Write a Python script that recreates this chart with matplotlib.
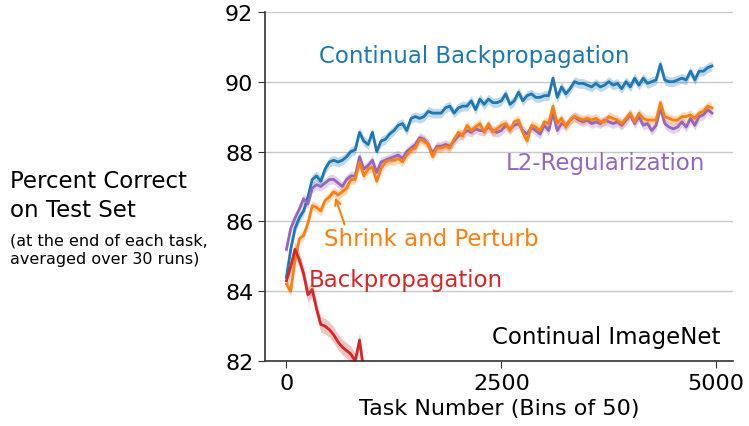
import numpy as np
import matplotlib
matplotlib.use("Agg")
import matplotlib.pyplot as plt

# task bins (0, 50, ..., 4950)
tasks = np.arange(0, 5000, 50)

cbp = [
    84.4, 85.2, 85.8, 86.1, 86.3, 86.7, 87.2, 87.3, 87.15, 87.5,
    87.7, 87.75, 87.7, 87.75, 87.85, 88.0, 88.05, 88.55, 88.3, 88.2,
    88.55, 88.0, 88.3, 88.35, 88.5, 88.6, 88.75, 88.8, 88.6, 88.95,
    89.0, 88.95, 89.0, 89.15, 89.1, 89.1, 89.1, 89.25, 89.3, 89.1,
    89.25, 89.3, 89.3, 89.45, 89.2, 89.5, 89.35, 89.5, 89.4, 89.4,
    89.45, 89.65, 89.35, 89.45, 89.7, 89.45, 89.6, 89.65, 89.55, 89.55,
    89.6, 89.6, 90.1, 89.55, 89.85, 89.65, 89.8, 90.0, 89.95, 89.95,
    89.9, 89.85, 89.95, 89.85, 89.9, 90.0, 89.9, 89.95, 89.8, 90.0,
    89.85, 90.1, 89.9, 90.1, 89.95, 90.0, 90.05, 90.5, 90.05, 90.0,
    90.0, 90.05, 90.1, 90.05, 90.3, 90.05, 90.3, 90.3, 90.4, 90.45,
]

snp = [
    84.2, 84.0, 84.9, 85.5, 85.6, 85.95, 86.45, 86.4, 86.3, 86.6,
    86.7, 86.85, 86.75, 86.85, 86.95, 87.2, 87.2, 87.7, 87.3, 87.5,
    87.55, 87.15, 87.5, 87.7, 87.75, 87.75, 87.8, 87.7, 87.9, 88.05,
    88.1, 88.35, 88.3, 88.2, 87.85, 88.1, 88.1, 88.15, 88.1, 88.35,
    88.55, 88.45, 88.75, 88.6, 88.7, 88.8, 88.55, 88.8, 88.55, 88.65,
    88.75, 88.8, 88.6, 88.85, 88.9, 88.55, 88.3, 88.75, 88.7, 88.6,
    88.85, 88.8, 89.3, 88.8, 88.95, 88.7, 88.9, 89.0, 88.95, 88.9,
    88.95, 88.9, 88.95, 88.85, 88.85, 89.0, 88.95, 88.9, 88.8, 88.95,
    89.1, 88.85, 89.1, 88.95, 88.9, 88.9, 88.9, 89.4, 89.0, 88.95,
    88.9, 88.9, 89.0, 89.0, 89.05, 88.95, 89.1, 89.15, 89.3, 89.25,
]

l2 = [
    85.2, 85.8, 86.1, 86.35, 86.65, 86.5, 86.95, 87.05, 87.0, 87.1,
    87.2, 87.2, 87.1, 87.0, 87.2, 87.3, 87.3, 87.85, 87.5, 87.6,
    87.75, 87.4, 87.7, 87.75, 87.8, 87.85, 87.9, 87.8, 88.0, 88.1,
    88.2, 88.4, 88.35, 88.2, 87.95, 88.15, 88.15, 88.2, 88.15, 88.3,
    88.45, 88.5, 88.6, 88.55, 88.65, 88.6, 88.6, 88.7, 88.6, 88.55,
    88.6, 88.75, 88.65, 88.75, 88.8, 88.6, 88.5, 88.7, 88.6, 88.5,
    88.75, 88.6, 89.1, 88.6, 88.8, 88.75, 88.9, 89.0, 88.9, 88.85,
    88.9, 88.8, 88.85, 88.8, 88.9, 88.85, 88.8, 88.85, 88.75, 88.9,
    89.05, 88.8, 89.0, 88.75, 88.8, 88.6, 88.75, 89.25, 88.8, 88.7,
    88.65, 88.7, 88.85, 88.7, 88.95, 88.75, 89.0, 89.05, 89.2, 89.1,
]

# plain backprop falls off the bottom of the plot early
bp_tasks = np.arange(0, 1000, 50)
bp = [
    84.3, 84.7, 85.2, 84.9, 84.5, 83.9, 84.05, 83.5, 83.05, 83.0,
    82.9, 82.75, 82.55, 82.4, 82.3, 82.2, 82.0, 82.6, 81.7, 81.5,
]

series = [
    (tasks, cbp, "#1f77b4", 0.14),
    (tasks, l2, "#9467bd", 0.14),
    (tasks, snp, "#ff7f0e", 0.14),
    (bp_tasks, bp, "#d62728", 0.22),
]

fig = plt.figure(figsize=(7.49, 4.27), dpi=100)
ax = fig.add_axes([0.354, 0.152, 0.625, 0.818])

for x, y, c, err in series:
    y = np.array(y)
    ax.fill_between(x, y - err, y + err, color=c, alpha=0.28, lw=0)
    ax.plot(x, y, color=c, lw=2)

ax.set_ylim(82, 92)
ax.set_yticks([82, 84, 86, 88, 90, 92])
ax.set_xticks([0, 2500, 5000])
ax.yaxis.grid(True, color="#c8c8c8", lw=1)
ax.set_axisbelow(True)
for s in ["top", "right"]:
    ax.spines[s].set_visible(False)
for s in ["left", "bottom"]:
    ax.spines[s].set_color("#333333")
    ax.spines[s].set_linewidth(1.2)
ax.tick_params(labelsize=16, length=5, color="#333333")

ax.set_xlabel("Task Number (Bins of 50)", fontsize=16)

ax.text(2186, 90.74, "Continual Backpropagation", color="#1f77b4",
        fontsize=16.5, ha="center", va="center")
ax.text(3709, 87.7, "L2-Regularization", color="#9467bd",
        fontsize=16.5, ha="center", va="center")
ax.text(1686, 85.5, "Shrink and Perturb", color="#ff7f0e",
        fontsize=16.5, ha="center", va="center")
ax.text(1384, 84.35, "Backpropagation", color="#d62728",
        fontsize=16.5, ha="center", va="center")
ax.text(5047, 82.7, "Continual ImageNet", color="black",
        fontsize=16.5, ha="right", va="center")
ax.annotate("", xy=(558, 86.76), xytext=(686, 85.84),
            arrowprops=dict(arrowstyle="->", color="#ff7f0e", lw=1.5))

fig.text(0.0134, 0.541, "Percent Correct\non Test Set", fontsize=16.5,
         ha="left", va="center", linespacing=1.35)
fig.text(0.0134, 0.413, "(at the end of each task,\naveraged over 30 runs)",
         fontsize=11.5, ha="left", va="center", linespacing=1.3)

fig.savefig("out.png", dpi=100)
